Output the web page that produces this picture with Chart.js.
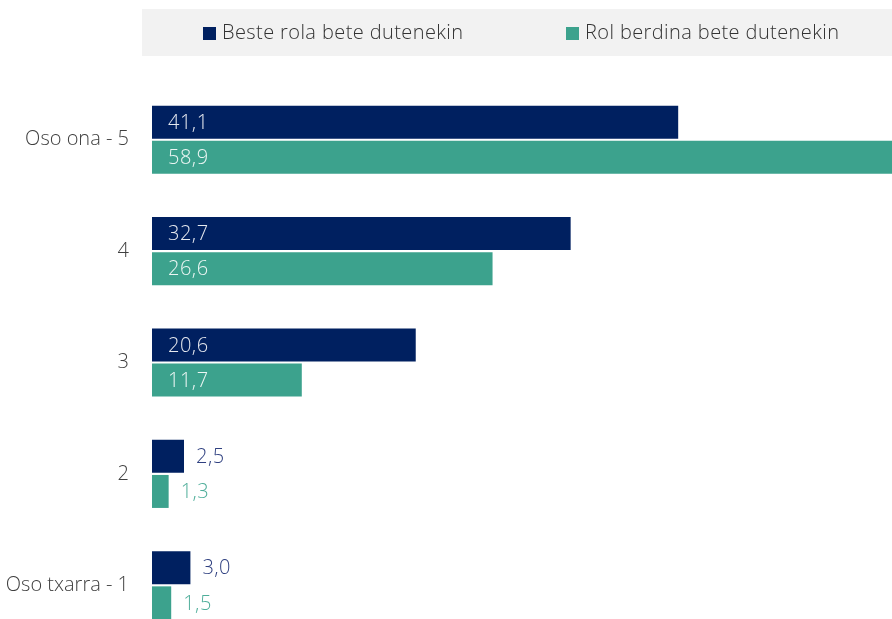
<!DOCTYPE html>
<html>
<head>
<meta charset="utf-8">
<script src="https://cdn.jsdelivr.net/npm/chart.js@4.4.1/dist/chart.umd.min.js"></script>
<style>
    html, body { margin: 0; padding: 0; background: #fff; overflow: hidden; }
    #wrap { width: 892px; height: 619px; overflow: hidden; }
</style>
</head>
<body>
<div id="wrap"><canvas id="ratingChart"></canvas></div>
<script>
const categories = ['Oso ona - 5', '4', '3', '2', 'Oso txarra - 1'];
const seriesNames = ['Beste rola bete dutenekin', 'Rol berdina bete dutenekin'];
const otherRole = [41.1, 32.7, 20.6, 2.5, 3.0];
const sameRole = [58.9, 26.6, 11.7, 1.3, 1.5];

const navy = '#002060';
const teal = '#3ca28d';
const font = "'Open Sans', 'Noto Sans', sans-serif";

// grey legend strip + legend items
const legendPlugin = {
    id: 'stripLegend',
    beforeDraw: function (chart) {
        const ctx = chart.ctx;
        const area = chart.chartArea;
        ctx.save();
        ctx.fillStyle = '#f2f2f2';
        ctx.fillRect(area.left - 10, 9, chart.width - area.left + 10, 47);
        ctx.font = '300 20px ' + font;
        ctx.letterSpacing = '0.4px';
        ctx.textBaseline = 'middle';
        const starts = [203, 566];
        chart.data.datasets.forEach(function (ds, i) {
            ctx.fillStyle = ds.backgroundColor;
            ctx.fillRect(starts[i], 27, 13, 13);
            ctx.fillStyle = '#333333';
            ctx.textAlign = 'left';
            ctx.fillText(ds.label, starts[i] + 19, 33);
        });
        ctx.restore();
    }
};

// value labels: inside the bar for big values, after the bar for small ones
const valueLabels = {
    id: 'valueLabels',
    afterDatasetsDraw: function (chart) {
        const ctx = chart.ctx;
        ctx.save();
        ctx.font = '300 20px ' + font;
        ctx.letterSpacing = '0.5px';
        ctx.textBaseline = 'middle';
        ctx.textAlign = 'left';
        chart.data.datasets.forEach(function (ds, i) {
            const meta = chart.getDatasetMeta(i);
            meta.data.forEach(function (bar, j) {
                const v = ds.data[j];
                const txt = v.toFixed(1).replace('.', ',');
                if (v >= 5) {
                    ctx.fillStyle = 'rgba(255,255,255,0.9)';
                    ctx.fillText(txt, bar.base + 16, bar.y + 1);
                } else {
                    ctx.fillStyle = i === 0 ? '#2f4080' : '#4fae9a';
                    ctx.fillText(txt, bar.x + 12, bar.y + 1);
                }
            });
        });
        ctx.restore();
    }
};

const data = {
    labels: categories,
    datasets: [{
        label: seriesNames[0],
        data: otherRole,
        backgroundColor: navy,
        barPercentage: 0.94,
        categoryPercentage: 0.63
    }, {
        label: seriesNames[1],
        data: sameRole,
        backgroundColor: teal,
        barPercentage: 0.94,
        categoryPercentage: 0.63
    }]
};

// canvas runs past the bottom of the window, like the original
const canvas = document.getElementById('ratingChart');
canvas.width = 892;
canvas.height = 676;
canvas.style.width = '892px';
canvas.style.height = '676px';

const config = {
    type: 'bar',
    data: data,
    options: {
        indexAxis: 'y',
        responsive: false,
        maintainAspectRatio: false,
        animation: false,
        layout: {
            padding: { top: 84, bottom: 10, left: 0, right: 0 }
        },
        scales: {
            x: {
                display: false,
                min: 0,
                max: 57.8
            },
            y: {
                grid: { display: false, drawTicks: false },
                border: { display: false },
                ticks: {
                    color: '#404040',
                    padding: 23,
                    font: { family: font, size: 20, weight: 300 }
                },
                afterFit: function (scale) {
                    scale.width = 152;
                }
            }
        },
        plugins: {
            legend: { display: false },
            tooltip: { enabled: false }
        }
    },
    plugins: [legendPlugin, valueLabels]
};

new Chart(canvas, config);
</script>
</body>
</html>
